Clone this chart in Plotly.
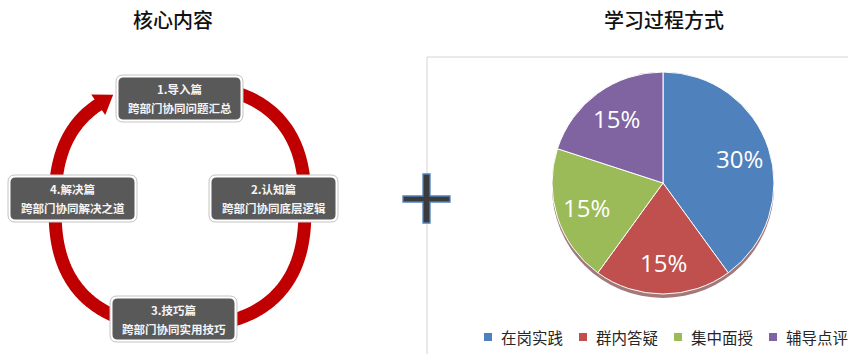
import numpy as np
import plotly.graph_objects as go

# ---------------- data ----------------
categories = ["在岗实践", "群内答疑", "集中面授", "辅导点评"]
values = [30, 15, 15, 15]
value_labels = ["30%", "15%", "15%", "15%"]
colors = ["#4F81BD", "#C0504D", "#9BBB59", "#8064A2"]

step_titles = ["1.导入篇", "2.认知篇", "3.技巧篇", "4.解决篇"]
step_descs = ["跨部门协同问题汇总", "跨部门协同底层逻辑", "跨部门协同实用技巧", "跨部门协同解决之道"]

left_title = "核心内容"
right_title = "学习过程方式"

W, H = 848, 354
FONT = "Noto Sans CJK SC"

fig = go.Figure()
# invisible trace so pixel-based axes exist
fig.add_trace(go.Scatter(x=[None], y=[None], mode="markers", showlegend=False, hoverinfo="skip"))

# ---------------- pie ----------------
pcx, pcy, pr = 663, 183, 111
fig.add_trace(go.Pie(
    labels=categories, values=values, textinfo="none",
    marker=dict(colors=colors, line=dict(color="white", width=1)),
    sort=False, direction="clockwise", rotation=0,
    domain=dict(x=[(pcx - pr) / W, (pcx + pr) / W],
                y=[(H - pcy - pr) / H, (H - pcy + pr) / H]),
    showlegend=False, hoverinfo="label+percent",
))

shapes = []
annotations = []

# slice labels placed at the middle angle of each slice
tot = sum(values)
cum = 0
for v, lab in zip(values, value_labels):
    mid = (cum + v / 2) / tot * 2 * np.pi
    cum += v
    annotations.append(dict(x=pcx + 0.72 * pr * np.sin(mid), y=pcy - 0.72 * pr * np.cos(mid),
                            xref="x", yref="y", text=lab, showarrow=False,
                            font=dict(family="Open Sans", size=24, color="white")))

# chart border (right panel)
shapes.append(dict(type="rect", xref="x", yref="y", x0=427, y0=57, x1=W + 5, y1=H + 5,
                   line=dict(color="#d4d4d4", width=1), fillcolor="rgba(0,0,0,0)", layer="below"))
# pie shadow
shapes.append(dict(type="circle", xref="x", yref="y", x0=pcx - pr, x1=pcx + pr,
                   y0=pcy - pr + 4, y1=pcy + pr + 4, fillcolor="rgba(100,30,30,0.6)",
                   line=dict(width=0), layer="below"))

# ---------------- ring with arrow ----------------
cx, cy, a, b, n = 180, 206, 125, 120, 2.5
def se(t):
    c, s = np.cos(t), np.sin(t)
    return (cx + a * np.sign(c) * np.abs(c) ** (2 / n),
            cy + b * np.sign(s) * np.abs(s) ** (2 / n))

t = np.radians(np.linspace(-90, 234.5, 400))
xs, ys = se(t)
path = "M " + " L ".join(f"{x:.2f},{y:.2f}" for x, y in zip(xs, ys))
shapes.append(dict(type="path", xref="x", yref="y", path=path,
                   line=dict(color="#C00000", width=13)))
# arrowhead
px, py = xs[-1], ys[-1]
dx, dy = xs[-1] - xs[-4], ys[-1] - ys[-4]
L = np.hypot(dx, dy); dx, dy = dx / L, dy / L
nx, ny = -dy, dx
tip = (px + 17 * dx, py + 17 * dy)
b1 = (px + 12.5 * nx - 1 * dx, py + 12.5 * ny - 1 * dy)
b2 = (px - 12.5 * nx - 1 * dx, py - 12.5 * ny - 1 * dy)
shapes.append(dict(type="path", xref="x", yref="y",
                   path=f"M {b1[0]:.2f},{b1[1]:.2f} L {tip[0]:.2f},{tip[1]:.2f} L {b2[0]:.2f},{b2[1]:.2f} Z",
                   fillcolor="#C00000", line=dict(width=0)))

def rrect(x0, y0, x1, y1, r):
    return (f"M {x0+r},{y0} L {x1-r},{y0} Q {x1},{y0} {x1},{y0+r} L {x1},{y1-r} "
            f"Q {x1},{y1} {x1-r},{y1} L {x0+r},{y1} Q {x0},{y1} {x0},{y1-r} "
            f"L {x0},{y0+r} Q {x0},{y0} {x0+r},{y0} Z")

boxes = [(116, 75, 243, 122), (209, 175, 338, 222), (110, 296, 237, 342), (8, 175, 137, 222)]
for (x0, y0, x1, y1), ttl, dsc in zip(boxes, step_titles, step_descs):
    shapes.append(dict(type="path", xref="x", yref="y", path=rrect(x0, y0, x1, y1, 7),
                       fillcolor="#ffffff", line=dict(color="#c4c4c4", width=1)))
    shapes.append(dict(type="path", xref="x", yref="y",
                       path=rrect(x0 + 2.5, y0 + 2.5, x1 - 2.5, y1 - 2.5, 5),
                       fillcolor="#595959", line=dict(width=0)))
    mx = (x0 + x1) / 2
    annotations.append(dict(x=mx, y=y0 + 14, xref="x", yref="y", text=f"<b>{ttl}</b>",
                            showarrow=False, font=dict(family=FONT, size=11.5, color="#f4f4f4")))
    annotations.append(dict(x=mx, y=y0 + 33, xref="x", yref="y", text=f"<b>{dsc}</b>",
                            showarrow=False, font=dict(family=FONT, size=11.5, color="#f4f4f4")))

# plus sign
plus = [(423, 174), (430, 174), (430, 196), (450, 196), (450, 202), (430, 202), (430, 223),
        (423, 223), (423, 202), (403, 202), (403, 196), (423, 196)]
shapes.append(dict(type="path", xref="x", yref="y",
                   path="M " + " L ".join(f"{x},{y}" for x, y in plus) + " Z",
                   fillcolor="#3b3b3b", line=dict(color="#4F81BD", width=1.3)))

# titles
annotations.append(dict(x=173, y=19, xref="x", yref="y", text=left_title, showarrow=False,
                        font=dict(family=FONT, size=20, color="#111111", weight=500)))
annotations.append(dict(x=664, y=19, xref="x", yref="y", text=right_title, showarrow=False,
                        font=dict(family=FONT, size=20, color="#111111", weight=500)))

# legend (manual)
leg_x = [488, 583, 678, 773]
for lx, cat, col in zip(leg_x, categories, colors):
    shapes.append(dict(type="rect", xref="x", yref="y", x0=lx - 4, x1=lx + 4, y0=333, y1=341,
                       fillcolor=col, line=dict(width=0)))
    annotations.append(dict(x=lx + 11, y=337, xref="x", yref="y", text=cat, showarrow=False,
                            xanchor="left", font=dict(family=FONT, size=15.5, color="#262626")))

fig.update_layout(
    width=W, height=H, margin=dict(l=0, r=0, t=0, b=0),
    paper_bgcolor="white", plot_bgcolor="rgba(0,0,0,0)",
    xaxis=dict(range=[0, W], visible=False, fixedrange=True, domain=[0, 1]),
    yaxis=dict(range=[H, 0], visible=False, fixedrange=True, domain=[0, 1]),
    shapes=shapes, annotations=annotations, showlegend=False,
)
fig.write_html("out.html")
